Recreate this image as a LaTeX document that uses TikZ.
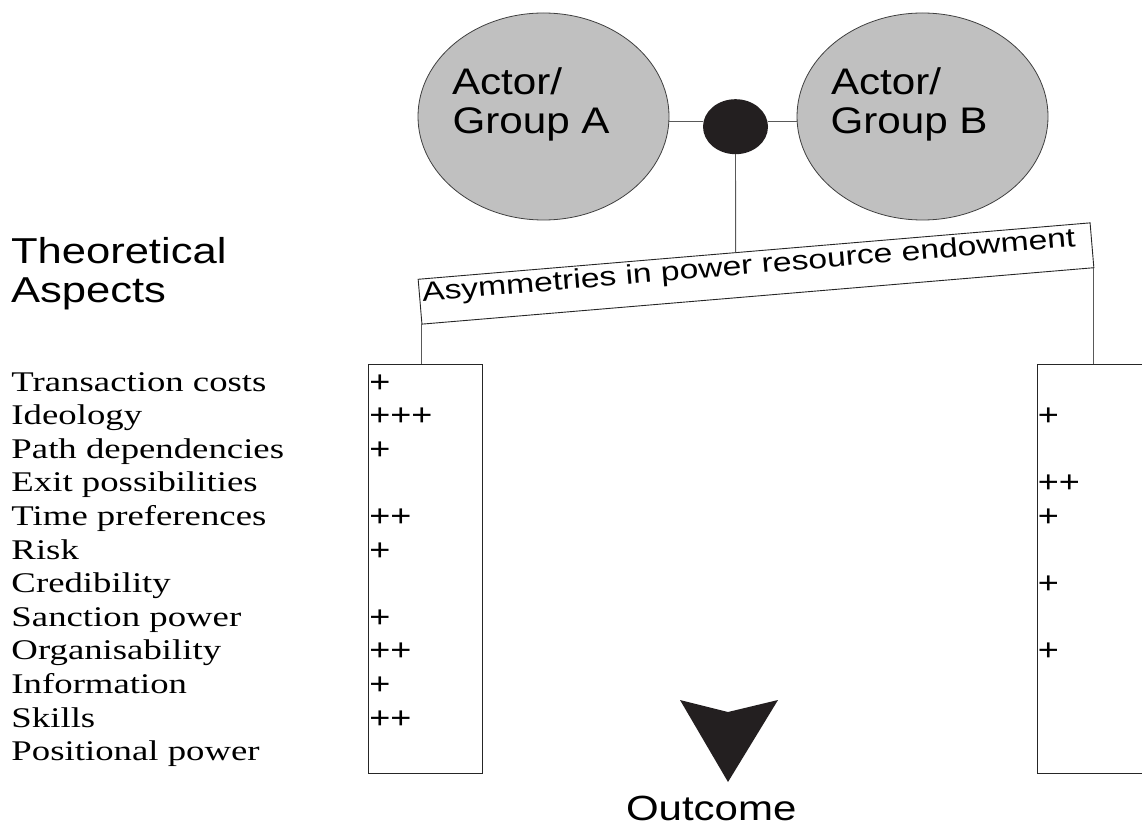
\documentclass[tikz,border=0pt]{standalone}
\usepackage{fontspec}
\setmainfont{Liberation Serif}
\newfontfamily\arialf{Liberation Sans}
\usepackage{graphicx}
\usetikzlibrary{shapes.geometric,calc}
\definecolor{ink}{HTML}{231F20}
\definecolor{blobgray}{HTML}{C0C0C0}
\tikzset{
 every node/.style={inner sep=0pt, outer sep=0pt},
 actor/.style={ellipse, draw=black!75, line width=0.8pt, fill=blobgray, minimum width=251pt, minimum height=207pt},
 hub/.style={ellipse, fill=ink, minimum width=65pt, minimum height=55pt},
 link/.style={draw=black!65, line width=0.9pt},
 colbox/.style={draw=black!85, line width=0.9pt, rectangle, minimum width=114pt, minimum height=409pt},
 actortext/.style={font=\arialf\fontsize{37}{40}\selectfont, anchor=base west, xscale=1.14},
 headtext/.style={font=\arialf\fontsize{36}{40}\selectfont, anchor=base west, xscale=1.21},
 aspect/.style={font=\fontsize{28.5}{30}\selectfont, anchor=base west, xscale=1.29},
 plusmark/.style={font=\arialf\fontsize{30.5}{32}\selectfont, anchor=base west, xscale=1.18},
}
\begin{document}
\begin{tikzpicture}[x=1pt,y=-1pt]
\useasboundingbox (0,0) rectangle (1142,826);
\fill[white] (0,0) rectangle (1142,826);

% actors
\node[actor] (A) at (543.5,116.5) {};
\node[actor] (B) at (922.5,116.5) {};
\node[hub] (hub) at (735.5,126.7) {};
\node[actortext] (a1) at (452,95) {Actor/};
\node[actortext] (a2) at (452.5,133.3) {Group A};
\node[actortext] (b1) at (831,95) {Actor/};
\node[actortext] (b2) at (830.5,133.3) {Group B};
\draw[link] ([yshift=5pt]hub.west) -- ([yshift=5pt]hub.west -| A.east);
\draw[link] ([yshift=5pt]hub.east) -- ([yshift=5pt]hub.east -| B.west);

% tilted box
\node[draw=black!85, line width=0.9pt, minimum width=674.3pt, minimum height=45pt,
      rotate=4.8, text height=10pt, text depth=10pt,
      font=\arialf\fontsize{27}{30}\selectfont] (asym) at (756,273.5)
      {\scalebox{1.248}[1]{Asymmetries in power resource endowment}\hspace*{13pt}};
\draw[link] (hub.south) -- ($(asym.north west)!0.4725!(asym.north east)$);

% heading
\node[headtext] (theo1) at (11,263) {Theoretical};
\node[headtext] (theo2) at (11,302) {Aspects};

% columns
\node[colbox] (lcol) at (425,568.5) {};
\begin{scope}
\clip (0,0) rectangle (1142,826);
\node[colbox, minimum width=120pt] (rcol) at (1097,568.5) {};
\end{scope}
\draw[link] (asym.south west) -- (asym.south west |- lcol.north);
\draw[link] (asym.south east) -- (asym.south east |- rcol.north);

% labels
\foreach \lab [count=\i from 0] in {Transaction costs, Ideology, Path dependencies, Exit possibilities, Time preferences, Risk, Credibility, Sanction power, Organisability, Information, Skills, Positional power}
  \node[aspect] (lab\i) at (11.5, 391+33.6*\i) {\lab};

\foreach \r/\p in {0/+,1/+++,2/+,4/++,5/+,7/+,8/++,9/+,10/++}
  \node[plusmark] (lp\r) at (369.3, 392+33.6*\r) {\p};
\foreach \r/\p in {1/+,3/++,4/+,6/+,8/+}
  \node[plusmark] (rp\r) at (1037.9, 392+33.6*\r) {\p};

% outcome
\fill[ink] (680,700) -- (728,712) -- (778,700) -- (728,782) -- cycle;
\node[font=\arialf\fontsize{35}{38}\selectfont, anchor=base west, xscale=1.2] (out) at (626,820) {Outcome};
\end{tikzpicture}
\end{document}
